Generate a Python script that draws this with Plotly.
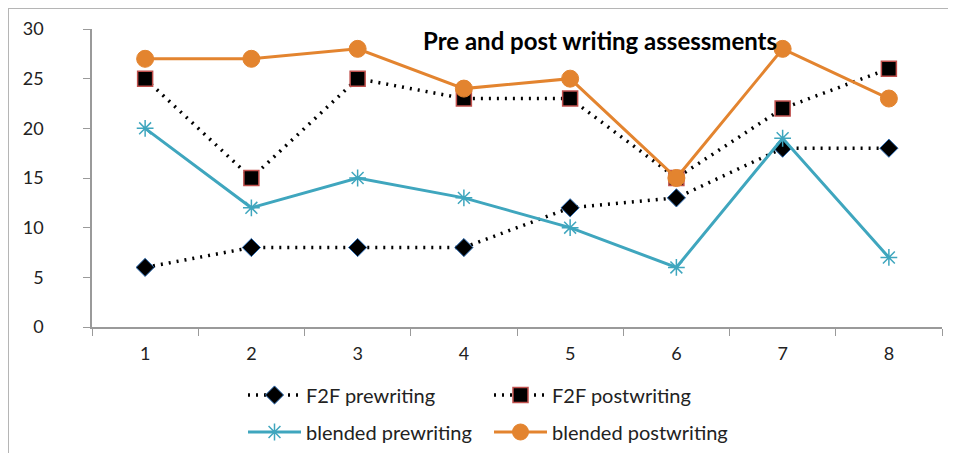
import plotly.graph_objects as go

categories = ["1", "2", "3", "4", "5", "6", "7", "8"]
f2f_pre = [6, 8, 8, 8, 12, 13, 18, 18]
f2f_post = [25, 15, 25, 23, 23, 15, 22, 26]
blended_pre = [20, 12, 15, 13, 10, 6, 19, 7]
blended_post = [27, 27, 28, 24, 25, 15, 28, 23]
y_ticks = [0, 5, 10, 15, 20, 25, 30]
title_text = "Pre and post writing assessments"

FONT = "Lato"
TEAL = "#3FA6BE"
ORANGE = "#E3842F"

# figure is drawn 8px right/down from the screen origin (page body margin)
L, R, T, B = 84, 934, 21, 319

fig = go.Figure()
fig.add_trace(go.Scatter(
    x=categories, y=f2f_pre, name="F2F prewriting", mode="lines+markers",
    line=dict(color="black", width=3.5, dash="2px,6px"),
    marker=dict(symbol="diamond", size=14, color="black",
                line=dict(color="#2E6DB4", width=1)),
    legend="legend"))
fig.add_trace(go.Scatter(
    x=categories, y=f2f_post, name="F2F postwriting", mode="lines+markers",
    line=dict(color="black", width=3.5, dash="2px,6px"),
    marker=dict(symbol="square", size=15, color="black",
                line=dict(color="#C0504D", width=1.5)),
    legend="legend2"))
fig.add_trace(go.Scatter(
    x=categories, y=blended_pre, name="blended prewriting", mode="lines+markers",
    line=dict(color=TEAL, width=3),
    marker=dict(symbol="asterisk-open", size=14, color=TEAL,
                line=dict(color=TEAL, width=1.5)),
    legend="legend3"))
fig.add_trace(go.Scatter(
    x=categories, y=blended_post, name="blended postwriting", mode="lines+markers",
    line=dict(color=ORANGE, width=3),
    marker=dict(symbol="circle", size=17, color=ORANGE,
                line=dict(color=ORANGE, width=1)),
    legend="legend4"))

legend_common = dict(orientation="h", xref="container", yref="container",
                     font=dict(family=FONT, size=20, color="#222222"),
                     itemwidth=53, bgcolor="rgba(0,0,0,0)",
                     xanchor="left", yanchor="middle")
W, H = 956, 453
col1, col2 = 235, 481
row1, row2 = 387, 424

fig.update_layout(
    width=W, height=H,
    margin=dict(l=L, r=W - R, t=T, b=H - B),
    paper_bgcolor="white", plot_bgcolor="white",
    font=dict(family=FONT, size=18, color="#222222"),
    showlegend=True,
    legend=dict(**legend_common, x=col1 / W, y=1 - row1 / H),
    legend2=dict(**legend_common, x=col2 / W, y=1 - row1 / H),
    legend3=dict(**legend_common, x=col1 / W, y=1 - row2 / H),
    legend4=dict(**legend_common, x=col2 / W, y=1 - row2 / H),
    xaxis=dict(type="category", tickson="boundaries", ticks="outside", ticklen=7,
               tickcolor="#9a9a9a", showline=True, linecolor="#9a9a9a", linewidth=1.5,
               showgrid=False, zeroline=False, ticklabelstandoff=10, automargin=False,
               tickfont=dict(family=FONT, size=18, color="#222222"),
               range=[-0.5, 7.5]),
    yaxis=dict(range=[0, 30], tickvals=y_ticks, ticks="outside", ticklen=7,
               tickcolor="#9a9a9a", showline=True, linecolor="#9a9a9a", linewidth=1.5,
               showgrid=False, zeroline=False, ticklabelstandoff=36, automargin=False,
               tickfont=dict(family=FONT, size=18, color="#222222")),
    annotations=[dict(text="<b>" + title_text + "</b>", xref="paper", yref="paper",
                      x=(592 - L) / (R - L), y=(B - 32) / (B - T), showarrow=False,
                      xanchor="center", yanchor="middle",
                      font=dict(family=FONT, size=24, color="black"))],
    shapes=[dict(type="rect", xref="paper", yref="paper",
                 x0=(0 - L) / (R - L), x1=(980 - L) / (R - L),
                 y0=(B - 470) / (B - T), y1=(B - 0) / (B - T),
                 line=dict(color="#b5b5b5", width=2), layer="below")],
)

fig.write_html("out.html")
